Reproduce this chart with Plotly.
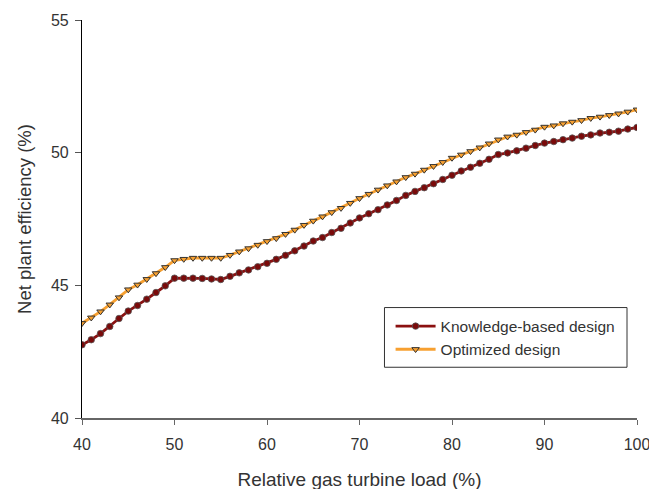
import plotly.graph_objects as go

load = list(range(40, 101))

knowledge_based = [
    42.76, 42.95, 43.18, 43.45, 43.75, 44.03, 44.24, 44.48, 44.73, 44.98,
    45.27, 45.27, 45.27, 45.26, 45.24, 45.22, 45.34, 45.47, 45.58, 45.70,
    45.83, 45.98, 46.13, 46.30, 46.48, 46.67, 46.80, 46.99, 47.15, 47.35,
    47.54, 47.70, 47.85, 48.03, 48.20, 48.39, 48.54, 48.68, 48.83, 48.99,
    49.15, 49.31, 49.45, 49.60, 49.75, 49.93, 49.99, 50.07, 50.17, 50.27,
    50.36, 50.42, 50.49, 50.55, 50.62, 50.67, 50.74, 50.77, 50.81, 50.89,
    50.95,
]

optimized = [
    43.57, 43.78, 44.01, 44.27, 44.54, 44.84, 45.02, 45.23, 45.45, 45.68,
    45.94, 45.99, 46.03, 46.03, 46.03, 46.03, 46.14, 46.27, 46.39, 46.52,
    46.66, 46.77, 46.93, 47.09, 47.27, 47.43, 47.59, 47.75, 47.91, 48.10,
    48.28, 48.44, 48.60, 48.76, 48.91, 49.07, 49.20, 49.35, 49.49, 49.64,
    49.80, 49.92, 50.05, 50.19, 50.34, 50.49, 50.60, 50.67, 50.77, 50.86,
    50.97, 51.02, 51.10, 51.16, 51.22, 51.30, 51.35, 51.41, 51.47, 51.54,
    51.62,
]

x_ticks = [40, 50, 60, 70, 80, 90, 100]
y_ticks = [40, 45, 50, 55]

FONT = "Liberation Sans, Arial, sans-serif"

fig = go.Figure()
fig.add_trace(go.Scatter(
    x=load, y=knowledge_based, mode="lines+markers",
    name="Knowledge-based design",
    line=dict(color="#8B1010", width=2.8),
    marker=dict(symbol="circle", size=6.5, color="#7A0A0A",
                line=dict(color="#555555", width=0.8)),
))
fig.add_trace(go.Scatter(
    x=load, y=optimized, mode="lines+markers",
    name="Optimized design",
    line=dict(color="#F7A030", width=2.8),
    marker=dict(symbol="triangle-down", size=6.5, color="#F7A030",
                line=dict(color="#333333", width=1)),
))

fig.update_layout(
    width=662, height=499,
    margin=dict(l=82, r=12, t=17, b=73),
    paper_bgcolor="white", plot_bgcolor="white",
    font=dict(family=FONT, color="#333333", size=16),
    showlegend=True,
    legend=dict(
        x=0.556, y=0.2725, xanchor="left", yanchor="top",
        bgcolor="rgba(0,0,0,0)", borderwidth=0,
        font=dict(family=FONT, size=15.5, color="#333333"),
        tracegroupgap=0, itemwidth=40,
    ),
    shapes=[dict(
        type="rect", xref="paper", yref="paper",
        x0=0.545, x1=0.982, y0=0.1275, y1=0.2775,
        line=dict(color="#333333", width=1), fillcolor="white", layer="above",
    )],
    xaxis=dict(
        range=[40, 100], tickvals=x_ticks, ticktext=[str(v) for v in x_ticks],
        showgrid=False, zeroline=False, showline=True,
        linecolor="#666666", linewidth=1.5,
        ticks="outside", ticklen=5, tickcolor="#666666", tickwidth=1,
        tickfont=dict(size=16), ticklabelstandoff=6, ticklabeloverflow="allow",
        title=dict(text="Relative gas turbine load (%)", font=dict(size=19), standoff=21),
    ),
    yaxis=dict(
        range=[40, 55], tickvals=y_ticks, ticktext=[str(v) for v in y_ticks],
        showgrid=False, zeroline=False, showline=True,
        linecolor="black", linewidth=1.2,
        ticks="outside", ticklen=6, tickcolor="#555555", tickwidth=1,
        tickfont=dict(size=16), ticklabelstandoff=3,
        title=dict(text="Net plant efficiency (%)", font=dict(size=18.5), standoff=14),
    ),
)

fig.write_html(
    "out.html",
    config={"displayModeBar": False},
    post_script=(
        "document.body.style.margin='0';"
        "document.documentElement.style.overflow='hidden';"
        "document.body.style.overflow='hidden';"
    ),
)
